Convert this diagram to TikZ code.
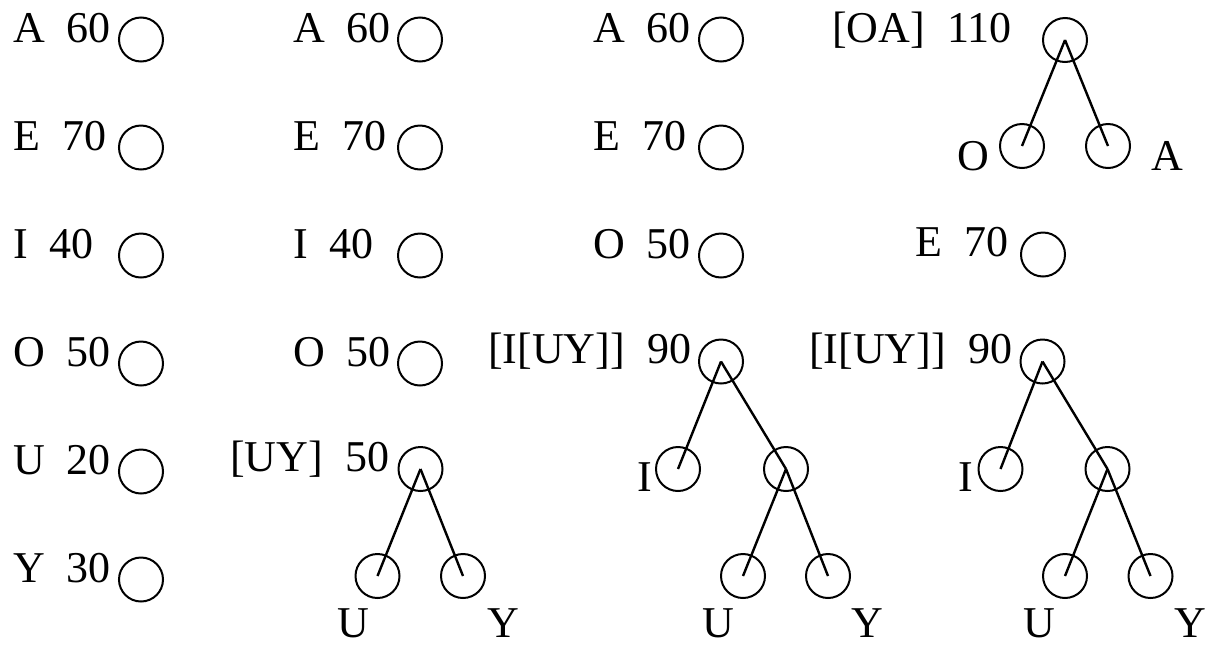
\documentclass[tikz,border=0pt]{standalone}
\usepackage{fontspec}
\setmainfont{Liberation Serif}
\usetikzlibrary{positioning}

\begin{document}
\begin{tikzpicture}[
  x=1pt, y=-1pt,
  font=\fontsize{44}{50}\selectfont,
  sym/.style={draw, circle, minimum size=44pt, inner sep=0pt, line width=2pt},
  lbl/.style={anchor=base west, inner sep=0pt},
  edge/.style={line width=2.4pt}
]
  \useasboundingbox (0,0) rectangle (1206,646);

  % column 1: the single symbols
  \foreach \s/\w [count=\i from 0] in {A/60, E/70, I/40, O/50, U/20, Y/30} {
    \node[sym] (c1\s) at (141,39.5+108*\i) {};
    \node[lbl] (t1\s) at (13,42+108*\i) {\s~~\w};
  }

  % column 2: U and Y merged
  \node[sym] (c2A) at (420,39.5) {};
  \node[lbl] (t2A) at (293,42) {A~~60};
  \node[sym] (c2E) at (420,147.5) {};
  \node[lbl] (t2E) at (293,150) {E~~70};
  \node[sym] (c2I) at (420,255.5) {};
  \node[lbl] (t2I) at (293,258) {I~~40};
  \node[sym] (c2O) at (420,363.5) {};
  \node[lbl] (t2O) at (293,366) {O~~50};
  \node[sym] (c2UY) at (420.5,469) {};
  \node[lbl] (t2UY) at (230,471.5) {[UY]~~50};
  \node[sym] (c2U) at (377.5,576) {};
  \node[sym] (c2Y) at (463,576) {};
  \node[lbl] (l2U) at (337,637) {U};
  \node[lbl] (l2Y) at (487,637) {Y};
  \draw[edge] (c2UY.center) -- (c2U.center);
  \draw[edge] (c2UY.center) -- (c2Y.center);

  % column 3: I joined to [UY]
  \node[sym] (c3A) at (721,39.5) {};
  \node[lbl] (t3A) at (593,42) {A~~60};
  \node[sym] (c3E) at (721,147.5) {};
  \node[lbl] (t3E) at (593,150) {E~~70};
  \node[sym] (c3O) at (721,255.5) {};
  \node[lbl] (t3O) at (593,258) {O~~50};
  \node[sym] (c3IUY) at (721,361.5) {};
  \node[lbl] (t3IUY) at (488,363.5) {[I[UY]]~~90};
  \node[sym] (c3I) at (678,469) {};
  \node[sym] (c3UY) at (786,469) {};
  \node[sym] (c3U) at (743,576) {};
  \node[sym] (c3Y) at (828,576) {};
  \node[lbl] (l3I) at (637,491.5) {I};
  \node[lbl] (l3U) at (702,637) {U};
  \node[lbl] (l3Y) at (851,637) {Y};
  \draw[edge] (c3IUY.center) -- (c3I.center);
  \draw[edge] (c3IUY.center) -- (c3UY.center);
  \draw[edge] (c3UY.center) -- (c3U.center);
  \draw[edge] (c3UY.center) -- (c3Y.center);

  % column 4: O and A merged
  \node[sym] (c4OA) at (1065,40) {};
  \node[lbl] (t4OA) at (832,42) {[OA]~~110};
  \node[sym] (c4O) at (1022,146) {};
  \node[sym] (c4A) at (1108,146) {};
  \node[lbl] (l4O) at (957,170) {O};
  \node[lbl] (l4A) at (1151,170) {A};
  \draw[edge] (c4OA.center) -- (c4O.center);
  \draw[edge] (c4OA.center) -- (c4A.center);

  \node[sym] (c4E) at (1043,254.5) {};
  \node[lbl] (t4E) at (915,256) {E~~70};

  \node[sym] (c4IUY) at (1042.5,361.5) {};
  \node[lbl] (t4IUY) at (809,363.5) {[I[UY]]~~90};
  \node[sym] (c4I) at (1000.5,469) {};
  \node[sym] (c4UY) at (1107.5,469) {};
  \node[sym] (c4U) at (1065,576) {};
  \node[sym] (c4Y) at (1150.5,576) {};
  \node[lbl] (l4I) at (958,491.5) {I};
  \node[lbl] (l4U) at (1023,637) {U};
  \node[lbl] (l4Y) at (1174,637) {Y};
  \draw[edge] (c4IUY.center) -- (c4I.center);
  \draw[edge] (c4IUY.center) -- (c4UY.center);
  \draw[edge] (c4UY.center) -- (c4U.center);
  \draw[edge] (c4UY.center) -- (c4Y.center);
\end{tikzpicture}
\end{document}
